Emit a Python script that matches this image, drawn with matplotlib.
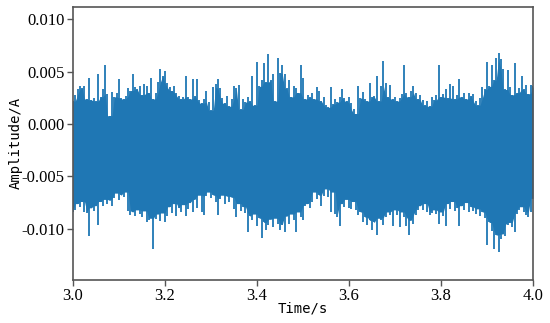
import numpy as np
import matplotlib
matplotlib.use("Agg")
import matplotlib.pyplot as plt

# envelope of the current signal, in mA, one value every 5 ms from 3.0 s to 4.0 s
t_start, t_end = 3.0, 4.0
upper_mA = [
    2.2, 2.8, 3.3, 3.6, 3.4, 3.6, 2.4, 4.4, 2.3, 2.5,
    2.2, 4.8, 2.6, 3.3, 5.6, 2.9, 0.8, 3.1, 2.6, 3.0,
    4.3, 2.5, 2.4, 2.7, 3.4, 3.2, 4.8, 3.5, 3.3, 3.6,
    2.8, 3.8, 3.6, 3.0, 4.4, 2.4, 3.0, 4.0, 5.3, 4.6,
    5.1, 3.9, 3.5, 3.2, 3.6, 3.0, 2.7, 2.4, 2.6, 4.6,
    2.6, 2.4, 4.3, 2.7, 4.3, 2.3, 2.0, 2.4, 3.2, 2.1,
    1.3, 3.5, 3.8, 4.3, 3.4, 2.5, 2.0, 2.7, 1.7, 2.4,
    3.6, 3.4, 3.7, 1.4, 2.4, 2.1, 2.6, 2.2, 4.6, 1.8,
    5.9, 3.6, 4.2, 5.8, 4.0, 6.7, 4.2, 4.8, 2.2, 6.3,
    4.9, 5.6, 4.8, 3.4, 4.2, 2.6, 3.6, 3.4, 3.0, 5.6,
    4.4, 2.4, 2.8, 2.6, 3.0, 2.4, 3.5, 3.2, 2.2, 2.6,
    1.8, 1.6, 3.5, 1.9, 2.4, 2.1, 2.6, 3.3, 2.5, 2.2,
    2.6, 2.0, 1.4, 1.0, 3.6, 2.5, 3.1, 2.4, 2.2, 3.9,
    2.6, 2.7, 4.6, 2.2, 3.6, 6.0, 3.9, 2.6, 3.7, 2.4,
    2.6, 2.2, 2.5, 2.9, 5.6, 3.0, 2.6, 3.2, 3.6, 3.0,
    2.4, 2.8, 2.3, 1.8, 2.2, 1.7, 2.6, 2.3, 2.8, 5.65,
    2.6, 2.9, 3.3, 2.5, 3.8, 3.6, 2.4, 2.8, 4.3, 2.6,
    3.0, 2.4, 3.0, 2.7, 2.9, 2.2, 1.8, 2.5, 3.5, 3.3,
    5.9, 3.6, 5.6, 4.2, 6.3, 6.8, 6.2, 5.3, 3.3, 5.2,
    3.5, 2.8, 5.8, 3.0, 3.4, 4.6, 3.3, 3.7, 2.9, 3.7,
    3.6,
]
lower_mA = [
    -8.4, -8.2, -7.6, -7.9, -7.4, -8.4, -8.5, -10.7, -8.0, -8.3,
    -7.8, -9.6, -7.4, -7.8, -7.2, -7.6, -7.3, -7.8, -7.1, -6.6,
    -7.3, -6.8, -7.0, -6.5, -8.3, -8.7, -8.4, -8.8, -8.2, -8.6,
    -8.9, -8.3, -9.4, -9.2, -9.0, -11.9, -9.1, -8.6, -9.3, -8.5,
    -9.4, -8.8, -7.9, -8.5, -7.6, -8.8, -8.0, -8.4, -7.7, -8.8,
    -8.1, -7.5, -8.4, -7.2, -8.0, -6.8, -8.4, -8.7, -6.9, -6.5,
    -7.1, -6.8, -7.4, -8.7, -7.2, -6.8, -7.6, -6.9, -7.4, -7.0,
    -8.1, -8.9, -7.6, -8.3, -7.9, -8.5, -10.3, -8.8, -9.2, -8.6,
    -9.7, -9.0, -10.9, -9.4, -10.1, -9.6, -9.1, -9.8, -9.0, -9.5,
    -10.1, -9.6, -10.3, -8.8, -9.5, -8.6, -9.2, -10.3, -8.4, -8.9,
    -9.2, -7.8, -7.6, -8.0, -7.4, -6.5, -7.2, -6.8, -7.8, -6.9,
    -6.2, -7.0, -8.4, -6.5, -8.6, -8.9, -9.7, -7.6, -7.9, -7.2,
    -8.0, -8.1, -7.4, -8.2, -8.7, -8.4, -9.4, -8.9, -9.6, -9.2,
    -10.1, -9.4, -10.6, -9.0, -9.2, -9.6, -8.9, -8.4, -8.7, -9.7,
    -8.2, -8.7, -9.8, -8.4, -8.9, -9.7, -10.6, -9.2, -9.5, -8.7,
    -8.2, -7.8, -8.2, -7.6, -8.4, -8.7, -8.5, -8.2, -8.6, -9.5,
    -8.4, -8.8, -9.7, -7.6, -8.1, -7.4, -8.3, -8.0, -9.7, -7.8,
    -8.2, -7.5, -8.4, -7.9, -8.3, -8.6, -8.1, -8.8, -8.4, -9.0,
    -11.6, -9.4, -10.2, -11.9, -10.6, -12.2, -11.0, -10.5, -10.7, -9.6,
    -9.4, -9.8, -10.3, -8.6, -8.2, -7.9, -8.4, -8.7, -8.9, -8.4,
    -7.1,
]

x_ticks = [3.0, 3.2, 3.4, 3.6, 3.8, 4.0]
y_ticks = [-0.010, -0.005, 0.000, 0.005, 0.010]

upper = np.array(upper_mA) / 1000
lower = np.array(lower_mA) / 1000
t = np.linspace(t_start, t_end, len(upper))

# solid core: the lowest top / highest bottom among neighbours
up_pad = np.pad(upper, 1, mode="edge")
lo_pad = np.pad(lower, 1, mode="edge")
core_hi = np.minimum(np.minimum(up_pad[:-2], up_pad[1:-1]), up_pad[2:])
core_lo = np.maximum(np.maximum(lo_pad[:-2], lo_pad[1:-1]), lo_pad[2:])

color = "#1f77b4"
fig = plt.figure(figsize=(5.5, 3.23), dpi=100)
ax = fig.add_axes([0.1327, 0.133, 0.8364, 0.846])

ax.fill_between(t, core_lo, core_hi, color=color, linewidth=0)
ax.vlines(t, lower, upper, color=color, linewidth=1.3)

ax.set_xlim(t_start, t_end)
ax.set_ylim(-0.0149, 0.0112)
ax.set_xticks(x_ticks)
ax.set_yticks(y_ticks)
ax.set_xticklabels([f"{v:.1f}" for v in x_ticks], family="Liberation Serif", fontsize=12)
ax.set_yticklabels([f"{v:.3f}".replace("-0.000", "0.000") for v in y_ticks],
                   family="Liberation Serif", fontsize=12)

for s in ax.spines.values():
    s.set_color("#555555")
    s.set_linewidth(1.2)
ax.tick_params(colors="#555555", labelcolor="black", length=4, width=1, pad=2)

ax.set_xlabel("Time/s", family="DejaVu Sans Mono", fontsize=10)
ax.set_ylabel("Amplitude/A", family="DejaVu Sans Mono", fontsize=10)
ax.xaxis.set_label_coords(0.5, -0.08)
ax.yaxis.set_label_coords(-0.109, 0.5)

fig.savefig("out.png", dpi=100)
